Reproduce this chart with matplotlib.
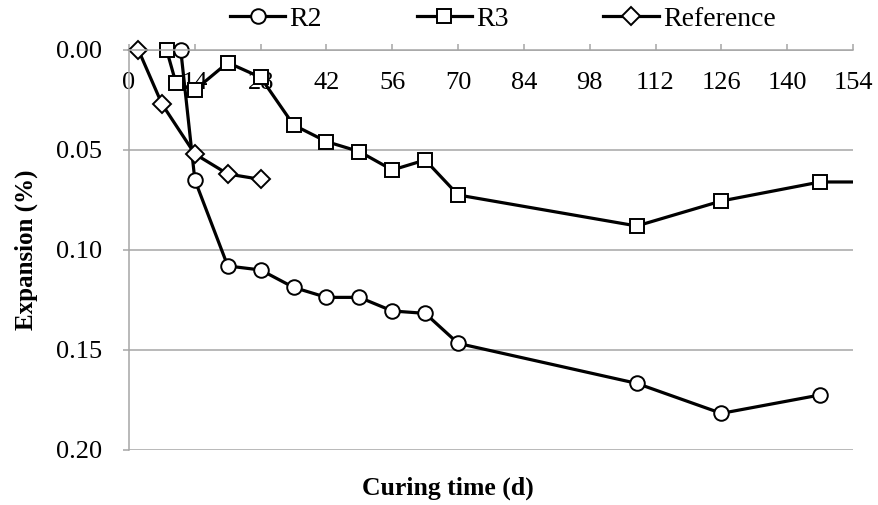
import matplotlib
matplotlib.use("Agg")
import matplotlib.pyplot as plt
from matplotlib.patches import Rectangle

plt.rcParams["font.family"] = ["Liberation Serif", "DejaVu Serif"]

# -------------------- Data --------------------

r2_days = [11, 14, 21, 28, 35, 42, 49, 56, 63, 70, 108, 126, 147]
r2_exp = [0.0, 0.065, 0.108, 0.110, 0.1187, 0.1237, 0.1237, 0.1305, 0.1317, 0.1467, 0.1667, 0.1817, 0.1725]

r3_days = [8, 10, 14, 21, 28, 35, 42, 49, 56, 63, 70, 108, 126, 147, 168]
r3_exp = [0.0, 0.0167, 0.020, 0.0063, 0.0137, 0.0375, 0.0458, 0.0508, 0.060, 0.055, 0.0725, 0.088, 0.0755, 0.066, 0.066]

ref_days = [2, 7, 14, 21, 28]
ref_exp = [0.0, 0.027, 0.052, 0.062, 0.0647]

x_ticks = list(range(0, 155, 14))
y_ticks = [0.00, 0.05, 0.10, 0.15, 0.20]

# -------------------- Plot --------------------

fig = plt.figure(figsize=(8.79, 5.05), dpi=100)
ax = fig.add_axes([0.1468, 0.109, 0.8236, 0.792])

style = dict(color="black", linewidth=2.3, markersize=10.5, markerfacecolor="white",
             markeredgecolor="black", markeredgewidth=1.4)
ax.plot(r2_days, r2_exp, marker="o", label="R2", **style)
ax.plot(r3_days, r3_exp, marker="s", label="R3", **style)
ax.plot(ref_days, ref_exp, marker="D", label="Reference", **dict(style, markersize=9))

# clip at the right edge only, markers on the 0.00 line stick out above
clip = Rectangle((-0.05, -0.05), 1.05, 1.15, transform=ax.transAxes)
for line in ax.lines:
    line.set_clip_path(clip)

ax.set_xlim(0, 154)
ax.set_ylim(0.20, 0.0)
ax.set_xticks(x_ticks)
ax.set_yticks(y_ticks)
ax.set_yticklabels([f"{v:.2f}" for v in y_ticks])

grid_col = "#a6a6a6"
ax.grid(axis="y", color=grid_col, linewidth=1.1)
ax.set_axisbelow(True)
for side in ["right", "bottom"]:
    ax.spines[side].set_visible(False)
for side in ["top", "left"]:
    ax.spines[side].set_color(grid_col)
    ax.spines[side].set_linewidth(1.1)

ax.tick_params(axis="x", top=True, bottom=False, labeltop=True, labelbottom=False,
               direction="out", length=4.5, width=1.1, color=grid_col, pad=-36, labelsize=19)
ax.tick_params(axis="y", direction="out", length=4.5, width=1.1, color=grid_col,
               labelsize=19, pad=15)

ax.set_ylabel("Expansion (%)", fontsize=18, fontweight="bold", labelpad=13)
fig.text(0.51, 0.034, "Curing time (d)", fontsize=18.5, fontweight="bold", ha="center", va="center")

fig.legend(loc="center", bbox_to_anchor=(0.572, 0.962), ncol=3, frameon=False, fontsize=20,
           handlelength=2.0, handletextpad=0.15, columnspacing=3.4)

fig.savefig("out.png", dpi=100)
